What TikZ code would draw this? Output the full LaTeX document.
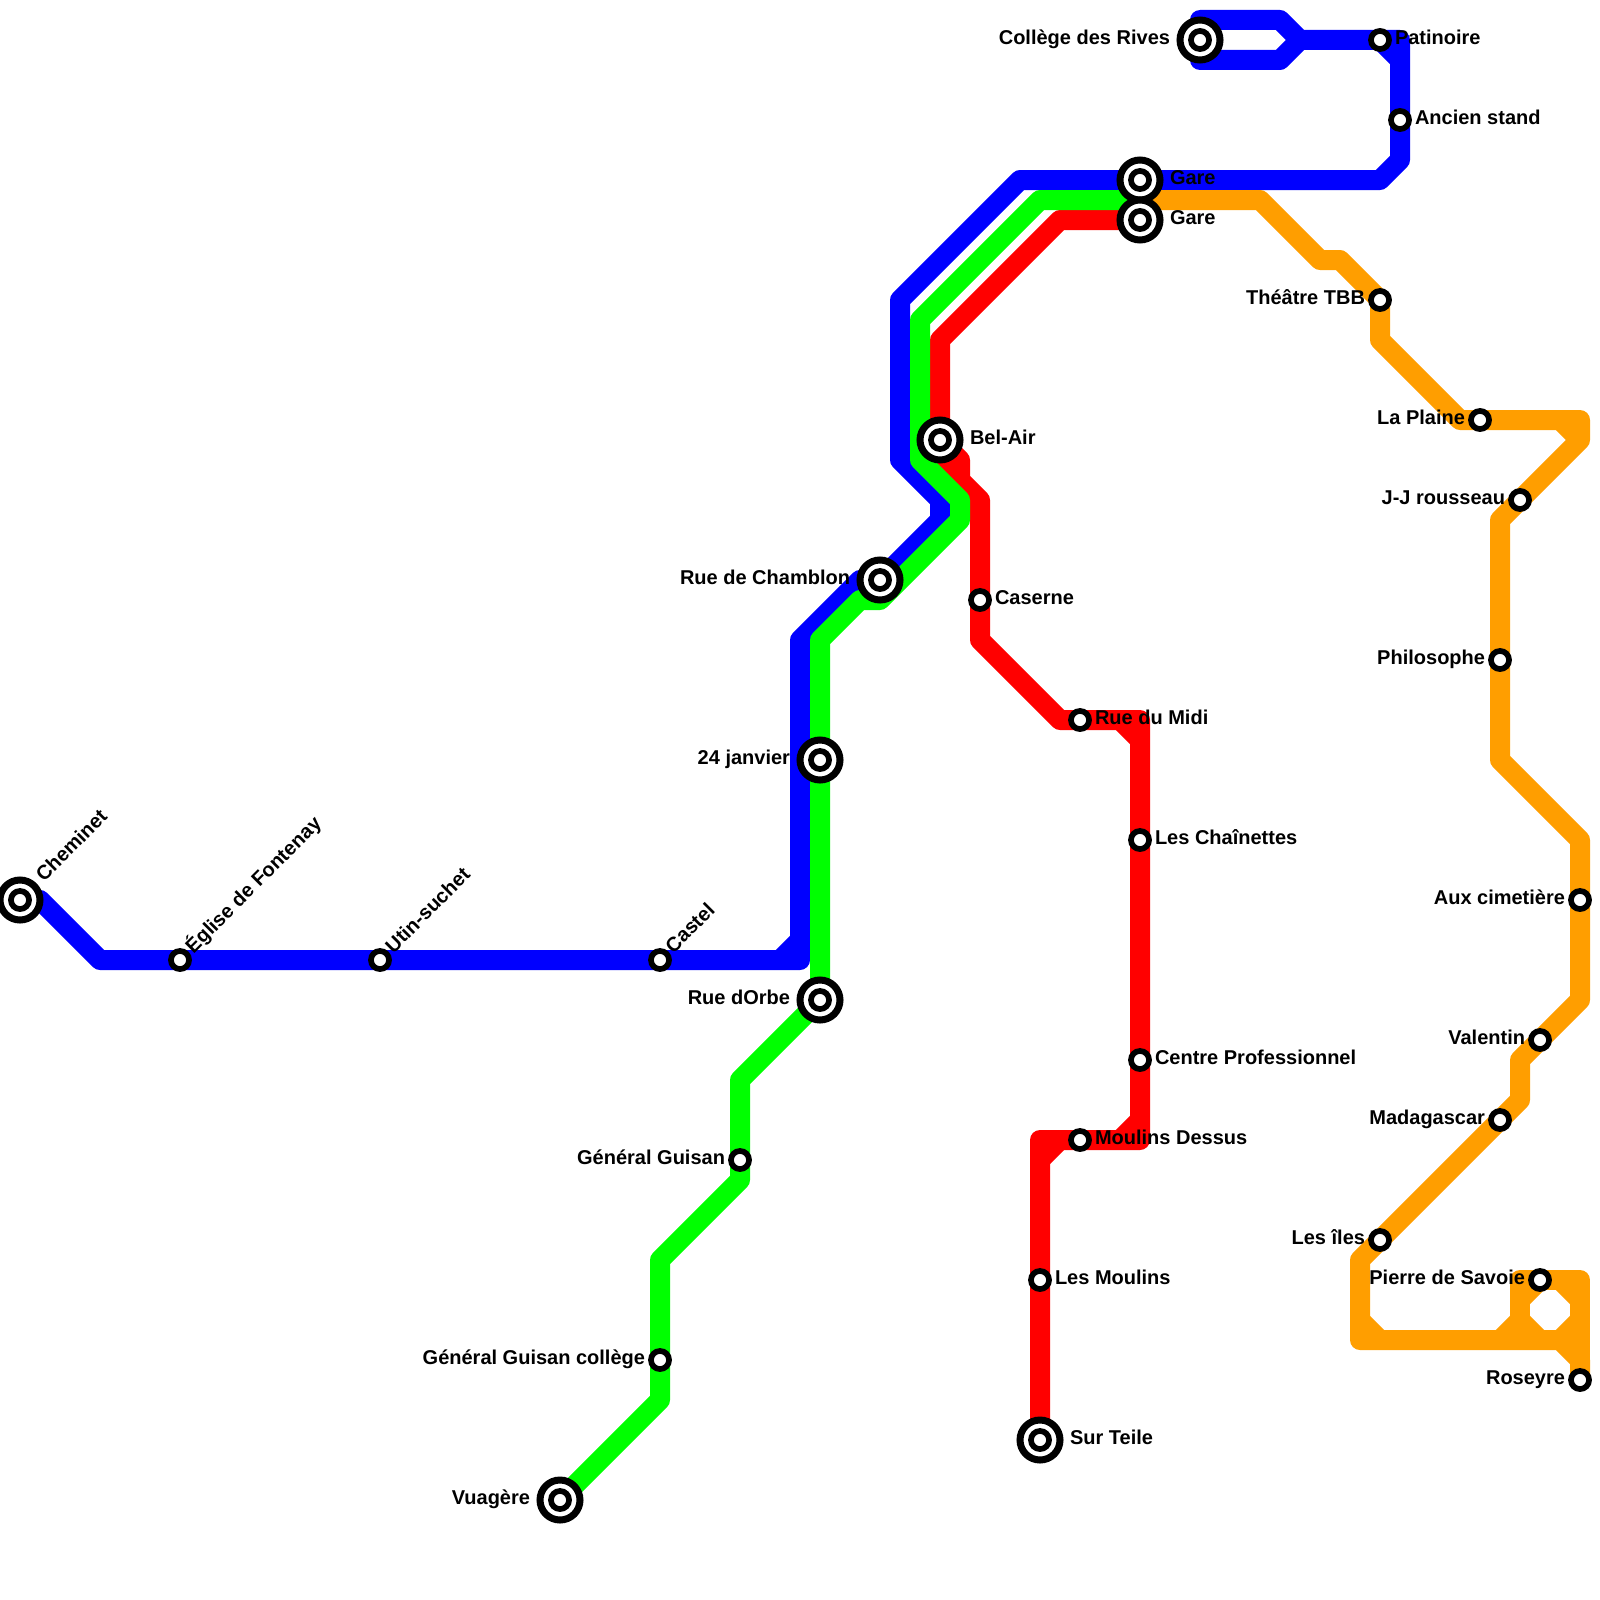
\documentclass[tikz,border=0pt]{standalone}
\usepackage{fontspec}
\setmainfont{Liberation Sans}
\definecolor{lineblue}{HTML}{0000FF}
\definecolor{linegreen}{HTML}{00FF00}
\definecolor{linered}{HTML}{FF0000}
\definecolor{lineorange}{HTML}{FF9E00}
\tikzset{
  metro/.style={line width=20pt,line join=round,line cap=butt},
  bluel/.style={metro,draw=lineblue},
  greenl/.style={metro,draw=linegreen},
  redl/.style={metro,draw=linered},
  orangel/.style={metro,draw=lineorange},
  halt/.style={circle,draw=black,fill=white,line width=5.7pt,minimum size=18.1pt,inner sep=0pt,outer sep=0pt},
  hub/.style={circle,draw=black,fill=white,line width=7pt,minimum size=40pt,inner sep=0pt,outer sep=0pt},
  txt/.style={font=\fontsize{20}{24}\selectfont\bfseries,inner sep=0pt,outer sep=0pt,text=black},
  rlabel/.style={txt,anchor=base west},
  llabel/.style={txt,anchor=base east},
  dlabel/.style={txt,anchor=base west,rotate=45}
}
\begin{document}
\begin{tikzpicture}[x=1pt,y=-1pt]
\useasboundingbox (0,0) rectangle (1600,1600);
\clip (0,0) rectangle (1600,1600);
% station positions
\foreach \n/\x/\y in {
  cheminet/20/900, eglise/180/960, utin/380/960, castel/660/960,
  orbe/820/1000, janvier/820/760, chamblon/880/580, belair/940/440,
  garea/1140/180, gareb/1140/220, rives/1200/40, patinoire/1380/40, ancien/1400/120,
  theatre/1380/300, plaine/1480/420, rousseau/1520/500, philosophe/1500/660,
  cimetiere/1580/900, valentin/1540/1040, madagascar/1500/1120, iles/1380/1240,
  savoie/1540/1280, roseyre/1580/1380,
  caserne/980/600, midi/1080/720, chainettes/1140/840, centre/1140/1060,
  moulinsd/1080/1140, moulins/1040/1280, teile/1040/1440,
  guisan/740/1160, college/660/1360, vuagere/560/1500}
  {\coordinate (\n) at (\x,\y);}
% blue line
\draw[bluel] (cheminet) -- (40,900) -- (100,960) -- (eglise) -- (utin) -- (castel) -- (800,960) -- (800,640)
  -- (860,580) -- (chamblon) -- (940,520) -- (940,500) -- (900,460) -- (900,300) -- (1020,180) -- (garea)
  -- (1380,180) -- (1400,160) -- (ancien) -- (1400,40) -- (patinoire) -- (1300,40)
  -- (1280,20) -- (1200,20) -- (rives) -- (1200,60) -- (1280,60) -- (1300,40);
\draw[bluel] (780,960) -- (800,940);
\draw[bluel] (patinoire) -- (1400,60);
% red line
\draw[redl] (gareb) -- (1060,220) -- (940,340) -- (belair) -- (960,460) -- (960,480) -- (980,500) -- (caserne)
  -- (980,640) -- (1060,720) -- (midi) -- (1140,720) -- (chainettes) -- (centre) -- (1140,1140)
  -- (moulinsd) -- (1040,1140) -- (moulins) -- (teile);
\draw[redl] (belair) -- (940,460) -- (960,480);
\draw[redl] (1120,720) -- (1140,740);
\draw[redl] (1140,1120) -- (1120,1140);
\draw[redl] (1040,1160) -- (1060,1140);
% green line
\draw[greenl] (gareb |- 0,200) -- (1040,200) -- (920,320) -- (920,460) -- (960,500) -- (960,520) -- (880,600)
  -- (860,600) -- (820,640) -- (janvier) -- (orbe) -- (740,1080) -- (guisan) -- (740,1180) -- (660,1260)
  -- (college) -- (660,1400) -- (vuagere);
% orange line
\draw[orangel] (1140,200) -- (1260,200) -- (1320,260) -- (1340,260) -- (theatre) -- (1380,340) -- (1460,420)
  -- (plaine) -- (1580,420) -- (1580,440) -- (rousseau) -- (1500,520) -- (philosophe) -- (1500,760)
  -- (1580,840) -- (cimetiere) -- (1580,1000) -- (valentin) -- (1520,1060) -- (1520,1100) -- (madagascar)
  -- (iles) -- (1360,1260) -- (1360,1340) -- (1560,1340) -- (1580,1360) -- (roseyre);
\draw[orangel] (1520,1340) -- (1520,1280) -- (savoie) -- (1580,1280) -- (roseyre);
\draw[orangel] (1560,420) -- (1580,440);
\draw[orangel] (1360,1320) -- (1380,1340);
\draw[orangel] (1500,1340) -- (1520,1320);
\draw[orangel] (1520,1300) -- (1540,1280);
\draw[orangel] (1560,1280) -- (1580,1300);
\draw[orangel] (1580,1320) -- (1560,1340);
\draw[orangel] (1540,1340) -- (1520,1320);
% stations
\foreach \n in {cheminet,orbe,janvier,chamblon,belair,garea,gareb,rives,teile,vuagere}
  {\node[hub] (hub\n) at (\n) {};}
\foreach \n in {cheminet,eglise,utin,castel,orbe,janvier,chamblon,belair,garea,gareb,rives,patinoire,ancien,
  theatre,plaine,rousseau,philosophe,cimetiere,valentin,madagascar,iles,savoie,roseyre,
  caserne,midi,chainettes,centre,moulinsd,moulins,teile,guisan,college,vuagere}
  {\node[halt] (st\n) at (\n) {};}
% labels: right side
\node[rlabel] (lgarea) at ([shift={(30,4.8)}]garea) {Gare};
\node[rlabel] (lgareb) at ([shift={(30,4.8)}]gareb) {Gare};
\node[rlabel] (lbelair) at ([shift={(30,4.8)}]belair) {Bel-Air};
\node[rlabel] (lteile) at ([shift={(30,4.8)}]teile) {Sur Teile};
\node[rlabel] (lpatinoire) at ([shift={(15,4.8)}]patinoire) {Patinoire};
\node[rlabel] (lancien) at ([shift={(15,4.8)}]ancien) {Ancien stand};
\node[rlabel] (lcaserne) at ([shift={(15,4.8)}]caserne) {Caserne};
\node[rlabel] (lmidi) at ([shift={(15,4.8)}]midi) {Rue du Midi};
\node[rlabel] (lchainettes) at ([shift={(15,4.8)}]chainettes) {Les Chaînettes};
\node[rlabel] (lcentre) at ([shift={(15,4.8)}]centre) {Centre Professionnel};
\node[rlabel] (lmoulinsd) at ([shift={(15,4.8)}]moulinsd) {Moulins Dessus};
\node[rlabel] (lmoulins) at ([shift={(15,4.8)}]moulins) {Les Moulins};
% labels: left side
\node[llabel] (lrives) at ([shift={(-30,4.8)}]rives) {Collège des Rives};
\node[llabel] (lchamblon) at ([shift={(-30,4.8)}]chamblon) {Rue de Chamblon};
\node[llabel] (ljanvier) at ([shift={(-30,4.8)}]janvier) {24 janvier};
\node[llabel] (lorbe) at ([shift={(-30,4.8)}]orbe) {Rue dOrbe};
\node[llabel] (lvuagere) at ([shift={(-30,4.8)}]vuagere) {Vuagère};
\node[llabel] (ltheatre) at ([shift={(-15,4.8)}]theatre) {Théâtre TBB};
\node[llabel] (lplaine) at ([shift={(-15,4.8)}]plaine) {La Plaine};
\node[llabel] (lrousseau) at ([shift={(-15,4.8)}]rousseau) {J-J rousseau};
\node[llabel] (lphilosophe) at ([shift={(-15,4.8)}]philosophe) {Philosophe};
\node[llabel] (lcimetiere) at ([shift={(-15,4.8)}]cimetiere) {Aux cimetière};
\node[llabel] (lvalentin) at ([shift={(-15,4.8)}]valentin) {Valentin};
\node[llabel] (lmadagascar) at ([shift={(-15,4.8)}]madagascar) {Madagascar};
\node[llabel] (liles) at ([shift={(-15,4.8)}]iles) {Les îles};
\node[llabel] (lsavoie) at ([shift={(-15,4.8)}]savoie) {Pierre de Savoie};
\node[llabel] (lroseyre) at ([shift={(-15,4.8)}]roseyre) {Roseyre};
\node[llabel] (lguisan) at ([shift={(-15,4.8)}]guisan) {Général Guisan};
\node[llabel] (lcollege) at ([shift={(-15,4.8)}]college) {Général Guisan collège};
% labels: rotated
\node[dlabel] (lcheminet) at ([shift={(24,-17.5)}]cheminet) {Cheminet};
\node[dlabel] (leglise) at ([shift={(13.5,-6)}]eglise) {Église de Fontenay};
\node[dlabel] (lutin) at ([shift={(13.5,-6)}]utin) {Utin-suchet};
\node[dlabel] (lcastel) at ([shift={(13.5,-6)}]castel) {Castel};
\end{tikzpicture}
\end{document}
